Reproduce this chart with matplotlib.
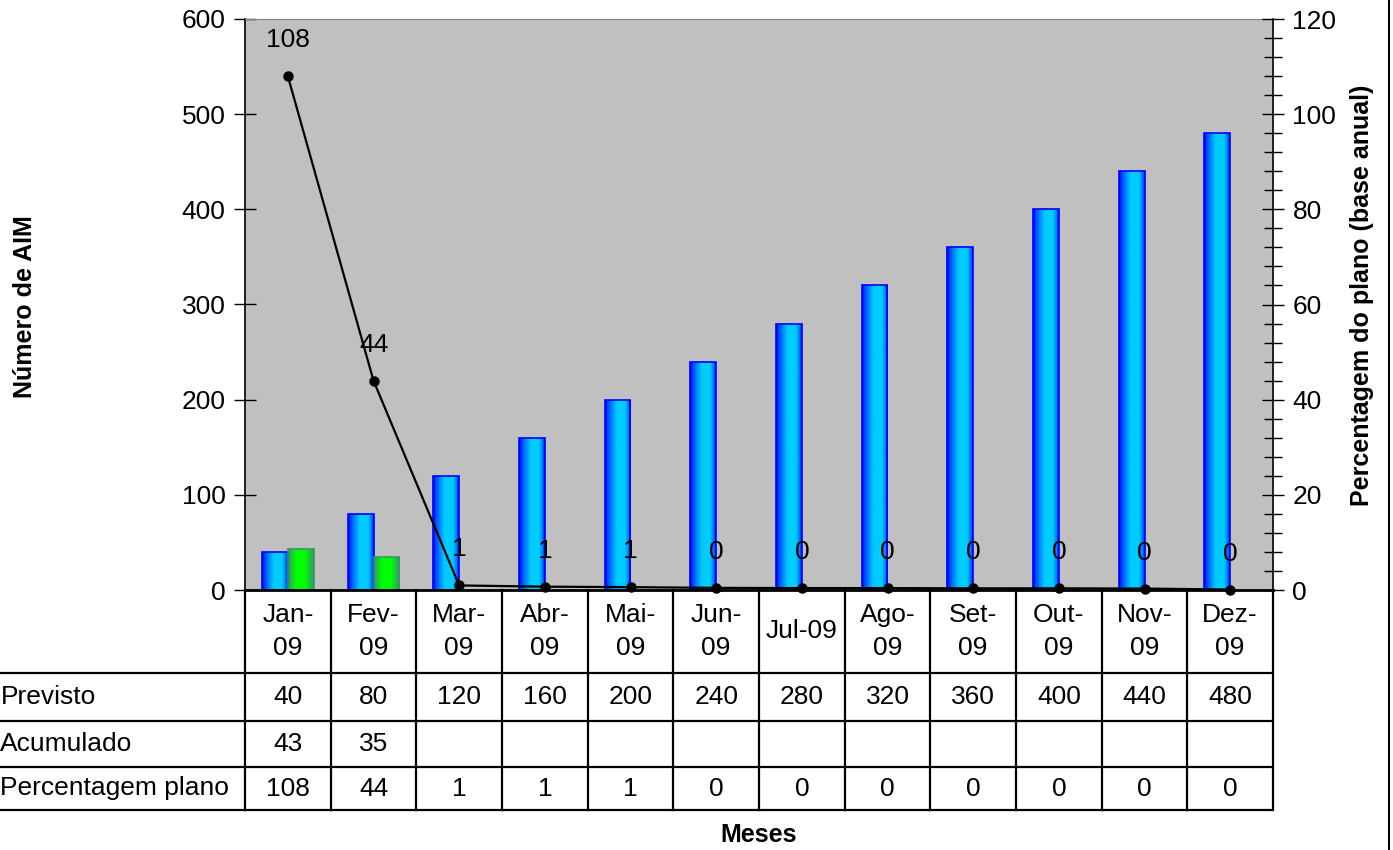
import matplotlib
matplotlib.use('Agg')
import matplotlib.pyplot as plt
import numpy as np
from matplotlib.colors import LinearSegmentedColormap
from matplotlib.ticker import MultipleLocator

plt.rcParams['font.family'] = ['Liberation Sans', 'DejaVu Sans']

# dados do gráfico
meses = ['Jan-\n09', 'Fev-\n09', 'Mar-\n09', 'Abr-\n09', 'Mai-\n09', 'Jun-\n09',
         'Jul-09', 'Ago-\n09', 'Set-\n09', 'Out-\n09', 'Nov-\n09', 'Dez-\n09']
previsto = [40, 80, 120, 160, 200, 240, 280, 320, 360, 400, 440, 480]
acumulado = [43, 35]
percentagem = [108, 44, 0.96, 0.7, 0.6, 0.45, 0.4, 0.4, 0.35, 0.35, 0.3, 0.1]
linhas_tabela = ['Previsto', 'Acumulado', 'Percentagem plano']

W, H = 1393, 850
fig = plt.figure(figsize=(W / 100, H / 100), dpi=100)
fig.patch.set_facecolor('white')

# eixo principal (px da referencia)
esq, dir_, topo, base = 245, 1273, 19, 590
ax = fig.add_axes([esq / W, 1 - base / H, (dir_ - esq) / W, (base - topo) / H])
ax.set_facecolor('#C0C0C0')

n = len(meses)
x = np.arange(n) + 0.5
larg = 0.3

# gradientes das barras
cmap_azul = LinearSegmentedColormap.from_list('azul', [
    (0.0, '#0000FF'), (0.12, '#0050FF'), (0.45, '#00CCFF'),
    (0.78, '#00CCFF'), (0.93, '#0070FF'), (1.0, '#0000FF')])
cmap_verde = LinearSegmentedColormap.from_list('verde', [
    (0.0, '#339966'), (0.3, '#00FF00'), (0.65, '#00FF00'), (1.0, '#339966')])
grad = np.linspace(0, 1, 64).reshape(1, -1)


def barras_gradiente(ax, xs, ys, cmap, cor_borda):
    barras = ax.bar(xs, ys, width=larg, align='edge', color='none',
                    edgecolor='none', zorder=2)
    for r in barras:
        x0, y0 = r.get_x(), r.get_y()
        im = ax.imshow(grad, cmap=cmap, aspect='auto', zorder=2.1,
                       extent=[x0, x0 + r.get_width(), y0, y0 + r.get_height()])
        im.set_clip_path(r)
    ax.bar(xs, ys, width=larg, align='edge', fill=False,
           edgecolor=cor_borda, linewidth=1.2, zorder=2.2)


barras_gradiente(ax, x - larg, previsto, cmap_azul, '#0000FF')
barras_gradiente(ax, x[:len(acumulado)], acumulado, cmap_verde, '#339966')

ax.set_xlim(0, n)
ax.set_ylim(0, 600)
ax.yaxis.set_major_locator(MultipleLocator(100))
ax.tick_params(axis='y', direction='inout', length=16, width=1, labelsize=19, pad=6)
ax.tick_params(axis='x', bottom=False, labelbottom=False)
ax.spines['top'].set_color('#808080')
ax.spines['right'].set_visible(False)
ax.spines['left'].set_linewidth(1.2)
ax.spines['bottom'].set_linewidth(2)

# eixo secundario - percentagem
ax2 = ax.twinx()
ax2.plot(x, percentagem, color='black', linewidth=1.6, marker='o',
         markersize=6.5, zorder=5, clip_on=False)
for xi, v in zip(x, percentagem):
    ax2.annotate(f'{int(v + 0.5)}', (xi, v), xytext=(0, 36),
                 textcoords='offset pixels', ha='center', va='center', fontsize=19)
ax2.set_ylim(0, 120)
ax2.yaxis.set_major_locator(MultipleLocator(20))
ax2.yaxis.set_minor_locator(MultipleLocator(4))
ax2.tick_params(axis='y', which='major', direction='inout', length=16, width=1,
                labelsize=19, pad=6)
ax2.tick_params(axis='y', which='minor', direction='inout', length=13, width=1)
for s in ['top', 'left', 'bottom']:
    ax2.spines[s].set_visible(False)
ax2.spines['right'].set_linewidth(1.2)

# titulos dos eixos
fig.text(25 / W, 1 - 307 / H, 'Número de AIM', rotation=90, ha='center',
         va='center', fontsize=18, fontweight='bold')
fig.text(1362 / W, 1 - 295 / H, 'Percentagem do plano (base anual)', rotation=90,
         ha='center', va='center', fontsize=18, fontweight='bold')

# tabela de dados
fim_tab = 810
axt = fig.add_axes([0, 1 - fim_tab / H, dir_ / W, (fim_tab - base) / H])
axt.set_xlim(-esq / (dir_ - esq) * n, n)
axt.set_ylim(fim_tab - base, 0)
axt.axis('off')

lw = 1.6
y_linhas = [83, 131, 177, 220]
for yl in y_linhas:
    axt.plot([axt.get_xlim()[0], n], [yl, yl], color='black', lw=lw, clip_on=False,
             solid_capstyle='butt')
for i in range(n + 1):
    axt.plot([i, i], [0, y_linhas[-1]], color='black', lw=lw, clip_on=False)

for i, m in enumerate(meses):
    axt.text(i + 0.5, y_linhas[0] / 2, m, ha='center', va='center', fontsize=19,
             linespacing=1.45)

valores = [previsto, acumulado, [int(v + 0.5) for v in percentagem]]
for k, (rot, vals) in enumerate(zip(linhas_tabela, valores)):
    yc = (y_linhas[k] + y_linhas[k + 1]) / 2
    axt.text(axt.get_xlim()[0] + 0.005, yc, rot, ha='left', va='center', fontsize=19)
    for i, v in enumerate(vals):
        axt.text(i + 0.5, yc, str(v), ha='center', va='center', fontsize=19)

fig.text(759 / W, 1 - 835 / H, 'Meses', ha='center', va='center',
         fontsize=18, fontweight='bold')

# borda direita da area do grafico
fig.add_artist(plt.Line2D([1389 / W, 1389 / W], [0, 1], color='black', lw=1.5))

fig.savefig('out.png', dpi=100)
